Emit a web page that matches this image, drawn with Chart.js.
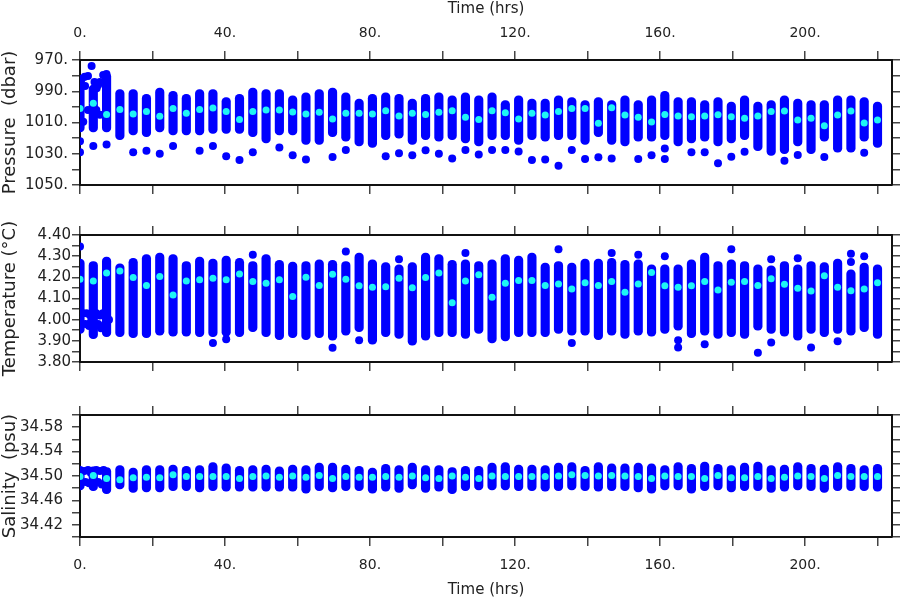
<!DOCTYPE html>
<html lang="en">
<head>
<meta charset="UTF-8">
<title>Pressure, Temperature, Salinity vs Time</title>
<script src="https://cdn.jsdelivr.net/npm/chart.js"></script>
<style>
    body { margin: 0; background: #fff; }
    canvas { position: absolute; left: 0; }
</style>
</head>
<body>
<canvas id="presChart" width="900" height="200" style="top:0px"></canvas>
<canvas id="tempChart" width="900" height="160" style="top:220px"></canvas>
<canvas id="salChart" width="900" height="203" style="top:397px"></canvas>
<script>
// profile times (hrs)
const times = [0, 3.67, 7.33, 11, 14.67, 18.33, 22, 25.67, 29.33, 33,
    36.67, 40.33, 44, 47.67, 51.33, 55, 58.67, 62.33, 66, 69.67,
    73.33, 77, 80.67, 84.33, 88, 91.67, 95.33, 99, 102.67, 106.33,
    110, 113.67, 117.33, 121, 124.67, 128.33, 132, 135.67, 139.33, 143,
    146.67, 150.33, 154, 157.67, 161.33, 165, 168.67, 172.33, 176, 179.67,
    183.33, 187, 190.67, 194.33, 198, 201.67, 205.33, 209, 212.67, 216.33,
    220];

// tick positions
const timeTicks = [0, 20, 40, 60, 80, 100, 120, 140, 160, 180, 200, 220];
const presTicks = [970, 980, 990, 1000, 1010, 1020, 1030, 1040, 1050];
const tempTicks = [3.80, 3.85, 3.90, 3.95, 4.00, 4.05, 4.10, 4.15, 4.20, 4.25, 4.30, 4.35, 4.40];
const salTicks = [34.40, 34.42, 34.44, 34.46, 34.48, 34.50, 34.52, 34.54, 34.56, 34.58, 34.60];

// pressure (dbar)
const presMin = [980, 986, 978, 989, 989, 992, 988, 990, 992, 989,
    989, 994, 992, 988, 989, 989, 993, 991, 989, 988,
    991, 995, 992, 991, 992, 995, 992, 991, 993, 991,
    993, 991, 996, 993, 995, 995, 993, 994, 996, 994,
    996, 993, 996, 993, 990, 994, 994, 996, 994, 997,
    993, 997, 996, 993, 995, 996, 996, 993, 993, 994,
    997];
const presMax = [1016, 1016, 1016, 1021, 1018, 1019, 1016, 1018, 1018, 1018,
    1017, 1017, 1017, 1019, 1023, 1018, 1018, 1024, 1024, 1019,
    1022, 1025, 1026, 1021, 1020, 1024, 1021, 1022, 1021, 1023,
    1025, 1021, 1021, 1024, 1021, 1022, 1021, 1021, 1024, 1019,
    1024, 1025, 1022, 1022, 1021, 1025, 1023, 1022, 1025, 1023,
    1021, 1028, 1031, 1030, 1025, 1030, 1022, 1029, 1029, 1022,
    1026];
const presMean = [1001, 997.7, 1004.8, 1001.7, 1004.6, 1003, 1006, 1001, 1004, 1001.7,
    1000.7, 1003, 1008, 1003, 1002, 1002, 1003.2, 1004.6, 1003.5, 1007.8,
    1004, 1004, 1004.6, 1002.4, 1005.8, 1004, 1004.8, 1003.5, 1002.4, 1006.7,
    1008, 1002.4, 1003.7, 1007.8, 1004, 1005.2, 1003, 1001, 1001, 1010.5,
    1000.5, 1005.2, 1006.7, 1009.7, 1004.8, 1005.8, 1006.3, 1005.8, 1005, 1006.3,
    1007.3, 1005.8, 1003, 1002.6, 1008.4, 1007.3, 1012, 1005.2, 1002.6, 1010.3,
    1008.4];
// single samples away from the main columns
const presDotT = [1.3, 2.2, 3.2, 1.4, 4.0, 4.6, 5.5, 6.4, 7.3, 5.0, 0.5, 0.9, 2.2, 4.5, 5.5,
    0, 0, 3.67, 7.33, 14.67, 18.33, 22, 25.67, 33, 36.67, 40.33, 44, 47.67, 55,
    58.67, 62.33, 69.67, 73.33, 84.33, 88, 91.67, 95.33, 99, 102.67, 106.33, 110,
    113.67, 117.33, 121, 124.67, 128.33, 132, 135.67, 139.33, 143, 146.67, 154,
    157.67, 161.33, 161.33, 168.67, 172.33, 176, 179.67, 183.33, 194.33, 198, 205.33, 216.33];
const presDotV = [980.7, 980.3, 973.8, 986.6, 984, 988, 984, 979.6, 979, 986, 982, 1009.5, 1002, 1002, 1005,
    1022, 1029, 1025, 1024, 1029, 1028, 1030, 1025, 1028, 1025, 1031.6, 1034, 1029, 1026,
    1031, 1033.6, 1032, 1027.6, 1031.6, 1029.7, 1031, 1027.8, 1030, 1033, 1027.6, 1030.4,
    1027.6, 1027.6, 1028.5, 1034, 1033.6, 1037.6, 1027.6, 1033.4, 1032.3, 1033, 1033.4,
    1031, 1026.7, 1033.4, 1029, 1029, 1036, 1031.9, 1028.7, 1034.4, 1030.8, 1032, 1029.3];

// temperature (deg C)
const tempMax = [4.286, 4.275, 4.296, 4.264, 4.29, 4.307, 4.315, 4.307, 4.275, 4.296,
    4.286, 4.30, 4.29, 4.275, 4.307, 4.28, 4.272, 4.275, 4.283, 4.28,
    4.275, 4.315, 4.283, 4.27, 4.259, 4.27, 4.315, 4.307, 4.28, 4.283,
    4.275, 4.283, 4.307, 4.30, 4.315, 4.267, 4.275, 4.267, 4.286, 4.286,
    4.29, 4.28, 4.283, 4.259, 4.259, 4.259, 4.283, 4.315, 4.275, 4.283,
    4.275, 4.259, 4.254, 4.275, 4.259, 4.275, 4.27, 4.286, 4.235, 4.267,
    4.259];
const tempMin = [3.935, 3.91, 3.92, 3.92, 3.915, 3.915, 3.927, 3.922, 3.922, 3.92,
    3.92, 3.922, 3.92, 3.943, 3.92, 3.906, 3.915, 3.906, 3.915, 3.903,
    3.927, 3.943, 3.884, 3.92, 3.911, 3.88, 3.903, 3.92, 3.92, 3.911,
    3.935, 3.89, 3.9, 3.92, 3.92, 3.92, 3.935, 3.927, 3.927, 3.906,
    3.927, 3.911, 3.927, 3.922, 3.935, 3.95, 3.915, 3.927, 3.911, 3.92,
    3.911, 3.95, 3.935, 3.922, 3.903, 3.935, 3.92, 3.935, 3.927, 3.943,
    3.911];
const tempMean = [4.191, 4.183, 4.22, 4.23, 4.199, 4.161, 4.204, 4.117, 4.183, 4.188,
    4.196, 4.188, 4.216, 4.18, 4.172, 4.188, 4.109, 4.20, 4.161, 4.215,
    4.191, 4.16, 4.153, 4.156, 4.196, 4.151, 4.199, 4.22, 4.08, 4.183,
    4.212, 4.106, 4.172, 4.185, 4.185, 4.161, 4.169, 4.145, 4.175, 4.161,
    4.18, 4.129, 4.169, 4.223, 4.16, 4.153, 4.16, 4.18, 4.14, 4.177,
    4.18, 4.161, 4.193, 4.167, 4.148, 4.136, 4.207, 4.153, 4.137, 4.145,
    4.175];
const tempDotT = [0.8, 1.8, 2.8, 4.5, 5.5, 6.3, 8.0, 1.5, 2.5, 5.0, 5.8, 6.5, 3.0,
    0, 36.67, 40.33, 47.67, 69.67, 73.33, 77, 88, 106.33, 132, 135.67, 146.67, 154,
    161.33, 165, 165, 172.33, 179.67, 187, 190.67, 190.67, 198, 201.67, 209,
    212.67, 212.67, 216.33];
const tempDotV = [4.03, 4.03, 4.02, 4.03, 4.02, 4.03, 4.00, 3.98, 3.97, 3.98, 3.96, 3.97, 3.99,
    4.346, 3.89, 3.908, 4.307, 3.867, 4.322, 3.903, 4.286, 4.315, 4.333, 3.89, 4.315, 4.307,
    4.30, 3.903, 3.868, 3.884, 4.333, 3.844, 4.286, 3.892, 4.29, 3.868, 3.898,
    4.311, 4.272, 4.30];

// salinity (psu)
const salMax = [34.516, 34.515, 34.514, 34.517, 34.513, 34.517, 34.517, 34.518, 34.516, 34.517,
    34.522, 34.520, 34.516, 34.517, 34.518, 34.515, 34.518, 34.517, 34.521, 34.521,
    34.518, 34.516, 34.513, 34.519, 34.517, 34.521, 34.517, 34.517, 34.514, 34.516,
    34.516, 34.521, 34.522, 34.518, 34.518, 34.517, 34.521, 34.522, 34.516, 34.522,
    34.520, 34.520, 34.521, 34.520, 34.517, 34.522, 34.519, 34.523, 34.519, 34.517,
    34.521, 34.523, 34.517, 34.518, 34.522, 34.519, 34.518, 34.522, 34.519, 34.517,
    34.519];
const salMin = [34.477, 34.476, 34.471, 34.479, 34.473, 34.474, 34.474, 34.476, 34.476, 34.474,
    34.476, 34.475, 34.475, 34.475, 34.475, 34.475, 34.475, 34.472, 34.476, 34.474,
    34.476, 34.476, 34.472, 34.475, 34.473, 34.479, 34.473, 34.475, 34.471, 34.476,
    34.477, 34.477, 34.477, 34.476, 34.476, 34.475, 34.476, 34.477, 34.476, 34.475,
    34.476, 34.476, 34.474, 34.472, 34.477, 34.477, 34.472, 34.476, 34.477, 34.474,
    34.476, 34.476, 34.473, 34.475, 34.477, 34.476, 34.473, 34.476, 34.476, 34.476,
    34.475];
const salMean = [34.499, 34.501, 34.496, 34.494, 34.497, 34.498, 34.497, 34.502, 34.499, 34.499,
    34.499, 34.499, 34.496, 34.499, 34.500, 34.498, 34.500, 34.498, 34.501, 34.496,
    34.499, 34.498, 34.498, 34.499, 34.498, 34.500, 34.497, 34.496, 34.500, 34.498,
    34.496, 34.500, 34.499, 34.499, 34.499, 34.499, 34.500, 34.502, 34.501, 34.500,
    34.501, 34.500, 34.499, 34.496, 34.500, 34.499, 34.499, 34.496, 34.501, 34.497,
    34.497, 34.499, 34.496, 34.498, 34.500, 34.499, 34.496, 34.501, 34.499, 34.499,
    34.499];
const salDotT = [1.2, 2.2, 4.5, 5.5, 6.5, 1.5, 2.5, 5.0, 6.0, 3.0];
const salDotV = [34.508, 34.51, 34.51, 34.508, 34.51, 34.49, 34.488, 34.49, 34.486, 34.505];

const BLUE = '#0000ff';
const CYAN = '#1ef5f5';
const INK = '#222';

Chart.defaults.font.family = "'DejaVu Sans', sans-serif";
Chart.defaults.font.size = 14;
Chart.defaults.color = INK;

const tickGrid = len => ({ drawOnChartArea: false, drawTicks: true, tickLength: len, color: '#444', lineWidth: 1.5 });
const frame = { display: true, color: '#111', width: 2 };
const useTicks = list => s => { s.ticks = list.map(v => ({ value: v })); };

function xAxis(pos, size, labels, pad, title) {
    return {
        type: 'linear', position: pos, min: 0, max: 224, offset: false,
        grid: Object.assign(tickGrid(9), { offset: false }), border: frame,
        afterBuildTicks: useTicks(timeTicks),
        ticks: {
            autoSkip: false, maxRotation: 0, padding: pad,
            callback: v => (labels && v % 40 === 0) ? v + '.' : ''
        },
        title: { display: !!title, text: title, font: { size: 15 }, padding: { top: 0, bottom: 1 } },
        afterFit: s => { s.height = size; }
    };
}

function yAxis(pos, lo, hi, list, fmt, pad, title, reverse) {
    return {
        type: 'linear', position: pos, min: lo, max: hi, reverse: !!reverse,
        grid: tickGrid(8), border: frame,
        afterBuildTicks: useTicks(list),
        ticks: { autoSkip: false, padding: pad, font: { size: 15 }, callback: pos === 'left' ? fmt : () => '' },
        title: { display: !!title, text: title, font: { size: 18 }, padding: 0 },
        afterFit: s => { s.width = pos === 'left' ? 80 : 8; }
    };
}

function makePanel(id, vMin, vMax, vMean, dotT, dotV, scales) {
    new Chart(document.getElementById(id), {
        type: 'bar',
        data: {
            datasets: [
                {
                    type: 'scatter', order: 0,
                    data: times.map((t, i) => ({ x: t, y: vMean[i] })),
                    pointRadius: 3.5, backgroundColor: CYAN, borderWidth: 0
                },
                {
                    type: 'scatter', order: 1,
                    data: dotT.map((t, i) => ({ x: t, y: dotV[i] })),
                    pointRadius: 4, backgroundColor: BLUE, borderWidth: 0
                },
                {
                    type: 'bar', order: 2,
                    data: times.map((t, i) => ({ x: t, y: [vMin[i], vMax[i]] })),
                    backgroundColor: BLUE, barThickness: 8.5,
                    borderRadius: 4.5, borderSkipped: false, borderWidth: 0
                }
            ]
        },
        options: {
            responsive: false,
            animation: false,
            layout: { padding: 0 },
            plugins: { legend: { display: false }, tooltip: { enabled: false } },
            scales: scales
        }
    });
}

const fmtPres = v => ((v - 970) % 20 === 0) ? v + '.' : '';
const fmtTemp = v => (Math.round(v * 100) % 10 === 0) ? v.toFixed(2) : '';
const fmtSal = v => (Math.round(v * 100) % 4 === 2) ? v.toFixed(2) : '';

makePanel('presChart', presMin, presMax, presMean, presDotT, presDotV, {
    x: xAxis('top', 60, true, 9, 'Time (hrs)'),
    x2: xAxis('bottom', 15, false, 0, ''),
    y: yAxis('left', 970, 1050, presTicks, fmtPres, 4, 'Pressure  (dbar)', true),
    y2: yAxis('right', 970, 1050, presTicks, null, 0, '', true)
});

makePanel('tempChart', tempMin, tempMax, tempMean, tempDotT, tempDotV, {
    x: xAxis('bottom', 18, false, 0, ''),
    x2: xAxis('top', 15, false, 0, ''),
    y: yAxis('left', 3.8, 4.4, tempTicks, fmtTemp, 1, 'Temperature (\u00B0C)'),
    y2: yAxis('right', 3.8, 4.4, tempTicks, null, 0, '')
});

makePanel('salChart', salMin, salMax, salMean, salDotT, salDotV, {
    x: xAxis('bottom', 63, true, 11, 'Time (hrs)'),
    x2: xAxis('top', 15, false, 0, ''),
    y: yAxis('left', 34.40, 34.60, salTicks, fmtSal, 9, 'Salinity  (psu)'),
    y2: yAxis('right', 34.40, 34.60, salTicks, null, 0, '')
});
</script>
</body>
</html>
